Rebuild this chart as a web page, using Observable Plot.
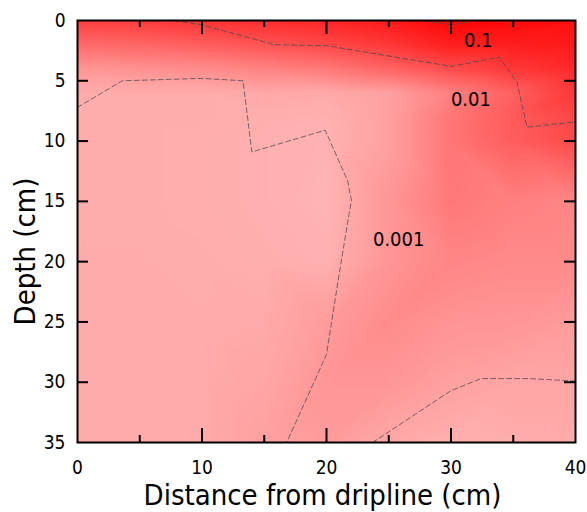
<!DOCTYPE html>
<html>
<head>
<meta charset="utf-8">
<script src="https://cdn.jsdelivr.net/npm/d3@7"></script>
<script src="https://cdn.jsdelivr.net/npm/@observablehq/plot@0.6"></script>
<style>
  html, body { margin: 0; padding: 0; background: #fff; }
  #chart svg { display: block; background: #fff; color: #000; font-family: 'DejaVu Sans Condensed', 'DejaVu Sans', sans-serif; font-stretch: condensed; }
</style>
</head>
<body>
<div id="chart"></div>
<script>
// Sample positions (cm)
const distances = [0, 5, 10, 15, 20, 25, 30, 35, 40];
const depths = [0, 2, 4, 6, 8, 10, 15, 20, 25, 30, 35];

// Estimated log10 concentration read from the shading, one row per depth
const logConc = [
  [-1.75, -1.68, -1.58, -1.48, -1.36, -1.18, -0.88, -0.95, -1.03],
  [-2.40, -2.33, -2.20, -2.05, -1.88, -1.63, -1.25, -1.25, -1.18],
  [-3.05, -2.98, -2.90, -2.75, -2.60, -2.30, -1.93, -1.63, -1.40],
  [-3.38, -3.38, -3.38, -3.32, -3.35, -3.20, -2.72, -2.24, -1.63],
  [-3.38, -3.38, -3.38, -3.41, -3.43, -3.20, -2.57, -2.15, -1.85],
  [-3.38, -3.38, -3.40, -3.43, -3.47, -3.20, -2.56, -2.20, -1.91],
  [-3.38, -3.38, -3.40, -3.43, -3.50, -3.05, -2.60, -2.72, -2.80],
  [-3.37, -3.37, -3.38, -3.41, -3.44, -3.04, -2.80, -2.87, -2.87],
  [-3.37, -3.37, -3.37, -3.35, -3.13, -2.90, -3.02, -3.05, -3.13],
  [-3.37, -3.37, -3.35, -3.28, -3.05, -3.05, -3.20, -3.28, -3.28],
  [-3.37, -3.37, -3.35, -3.20, -3.13, -3.32, -3.43, -3.38, -3.35]
];

// Contour lines: [distance, depth]
const contourTop = [[7.8,0],[10,0.36],[15.8,2.0],[20.1,2.1],[30,3.8],[33.9,3.05],[35.3,5.1],[36.1,8.85],[40,8.4]];
const contourTopPatch = [[27.8,0],[30,0.36],[31.7,0.08]];
const contourMid = [[0,7.2],[3.6,5.0],[10,4.8],[13.3,5.0],[14,10.9],[19.9,9.1],[21.7,13.3],[22,14.9],[21.1,20.5],[20,27.7],[16.8,35]];
const contourLow = [[23.7,35],[30,30.7],[32.4,29.7],[36.2,29.7],[40,29.9]];

const contourLabels = ["0.1", "0.01", "0.001"];
const labelX = [32.2, 31.6, 25.8];
const labelY = [1.66, 6.56, 18.2];

const xTickLabels = [0, 10, 20, 30, 40];
const xMajor = [10, 20, 30];
const xMinor = [5, 15, 25, 35];
const yTickLabels = [0, 5, 10, 15, 20, 25, 30, 35];
const yTicks = [5, 10, 15, 20, 25, 30];

const xTitle = "Distance from dripline (cm)";
const yTitle = "Depth (cm)";

// Build the grid table
const cells = [];
depths.forEach((d, i) => distances.forEach((x, j) => cells.push({x, y: d, v: logConc[i][j]})));
const contours = [contourTop, contourTopPatch, contourMid, contourLow];
const labels = contourLabels.map((t, i) => ({t, x: labelX[i], y: labelY[i]}));

const W = 587, H = 512, mL = 77, mR = 12, mT = 20, mB = 70;
const frameW = W - mL - mR, frameH = H - mT - mB;

const chart = Plot.plot({
  width: W,
  height: H,
  marginLeft: mL,
  marginRight: mR,
  marginTop: mT,
  marginBottom: mB,
  x: {domain: [0, 40]},
  y: {domain: [0, 35], reverse: true},
  color: {type: "linear", domain: [-3.5, -0.8], range: ["rgb(255,180,180)", "rgb(255,0,0)"], interpolate: "rgb"},
  marks: [
    Plot.raster(cells, {x: "x", y: "y", fill: "v", interpolate: "barycentric", x1: 0, x2: 40, y1: 0, y2: 35}),
    ...contours.map(c => Plot.line(c, {x: d => d[0], y: d => d[1], stroke: "#4a4a4a", strokeWidth: 0.9, strokeDasharray: "5,3", strokeOpacity: 0.85})),
    Plot.text(labels, {x: "x", y: "y", text: "t", fontSize: 20, fill: "black"}),
    Plot.frame({stroke: "black", strokeWidth: 2}),
    Plot.axisX(xTickLabels, {anchor: "bottom", tickSize: 0, tickPadding: 18, fontSize: 19, label: null}),
    Plot.axisY(yTickLabels, {anchor: "left", tickSize: 0, tickPadding: 12, fontSize: 19, label: null}),
    Plot.text([xTitle], {frameAnchor: "bottom", dx: -4, dy: 53, fontSize: 29, lineAnchor: "middle", fill: "black"}),
    Plot.text([yTitle], {frameAnchor: "left", textAnchor: "middle", rotate: -90, dx: -52, dy: 20, fontSize: 29, lineAnchor: "middle", fill: "black"}),
    // inward tick marks along all four sides
    Plot.ruleX(xMajor, {stroke: "black", strokeWidth: 2, insetTop: frameH - 14}),
    Plot.ruleX(xMinor, {stroke: "black", strokeWidth: 2, insetTop: frameH - 7}),
    Plot.ruleX(xMajor, {stroke: "black", strokeWidth: 2, insetBottom: frameH - 14}),
    Plot.ruleX(xMinor, {stroke: "black", strokeWidth: 2, insetBottom: frameH - 7}),
    Plot.ruleY(yTicks, {stroke: "black", strokeWidth: 2, insetRight: frameW - 11}),
    Plot.ruleY(yTicks, {stroke: "black", strokeWidth: 2, insetLeft: frameW - 11})
  ]
});
document.getElementById("chart").appendChild(chart);
</script>
</body>
</html>
